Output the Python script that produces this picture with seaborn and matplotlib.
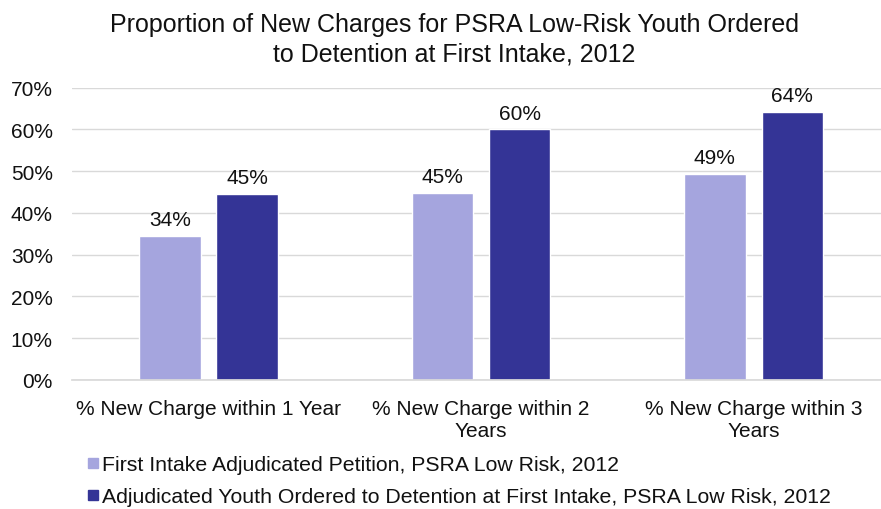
"""Grouped bar chart: new charges for PSRA low-risk youth, 2012"""
import matplotlib.pyplot as plt
import matplotlib.ticker as mticker
import pandas as pd
import seaborn as sns
from matplotlib.lines import Line2D

categories = [
    "% New Charge within 1 Year",
    "% New Charge within 2\nYears",
    "% New Charge within 3\nYears",
]
series_names = [
    "First Intake Adjudicated Petition, PSRA Low Risk, 2012",
    "Adjudicated Youth Ordered to Detention at First Intake, PSRA Low Risk, 2012",
]
adjudicated = [34.4, 44.9, 49.3]
detention = [44.6, 60.0, 64.1]
colors = ["#A5A5DE", "#343496"]

df = pd.DataFrame({
    "category": categories * 2,
    "series": [series_names[0]] * 3 + [series_names[1]] * 3,
    "value": adjudicated + detention,
})

sns.set_theme(style="white")
plt.rcParams["font.family"] = ["Liberation Sans", "DejaVu Sans"]

fig = plt.figure(figsize=(8.81, 5.10), dpi=100)
ax = fig.add_axes([0.082, 0.253, 0.928, 0.573])

sns.barplot(
    data=df, x="category", y="value", hue="series",
    palette=colors, width=0.567, gap=0.207, ax=ax, legend=False,
    saturation=1,
)

for cont in ax.containers:
    ax.bar_label(cont, labels=[f"{v:.0f}%" for v in cont.datavalues],
                 padding=5, fontsize=15, color="#111111")

ax.set_ylim(0, 70)
ax.set_yticks(range(0, 71, 10))
ax.yaxis.set_major_formatter(mticker.FuncFormatter(lambda v, _: f"{v:.0f}%"))
ax.grid(axis="y", color="#D9D9D9", linewidth=1)
ax.set_axisbelow(True)
for side in ["top", "right", "left"]:
    ax.spines[side].set_visible(False)
ax.spines["bottom"].set_color("#D9D9D9")
ax.tick_params(axis="both", labelsize=15, colors="#111111", length=0)
ax.tick_params(axis="y", pad=14)
ax.tick_params(axis="x", pad=14)
ax.set_xlabel("")
ax.set_ylabel("")

fig.suptitle(
    "Proportion of New Charges for PSRA Low-Risk Youth Ordered\n"
    "to Detention at First Intake, 2012",
    x=0.516, y=0.975, fontsize=18, color="#111111", linespacing=1.3,
)

handles = [Line2D([], [], marker="s", linestyle="", markersize=7,
                  color=c) for c in colors]
fig.legend(handles, series_names, loc="lower left",
           bbox_to_anchor=(0.074, -0.032), frameon=False, fontsize=15.3,
           handletextpad=0.05, labelspacing=0.6, handlelength=0.8,
           labelcolor="#111111")

fig.savefig("out.png", dpi=100)
